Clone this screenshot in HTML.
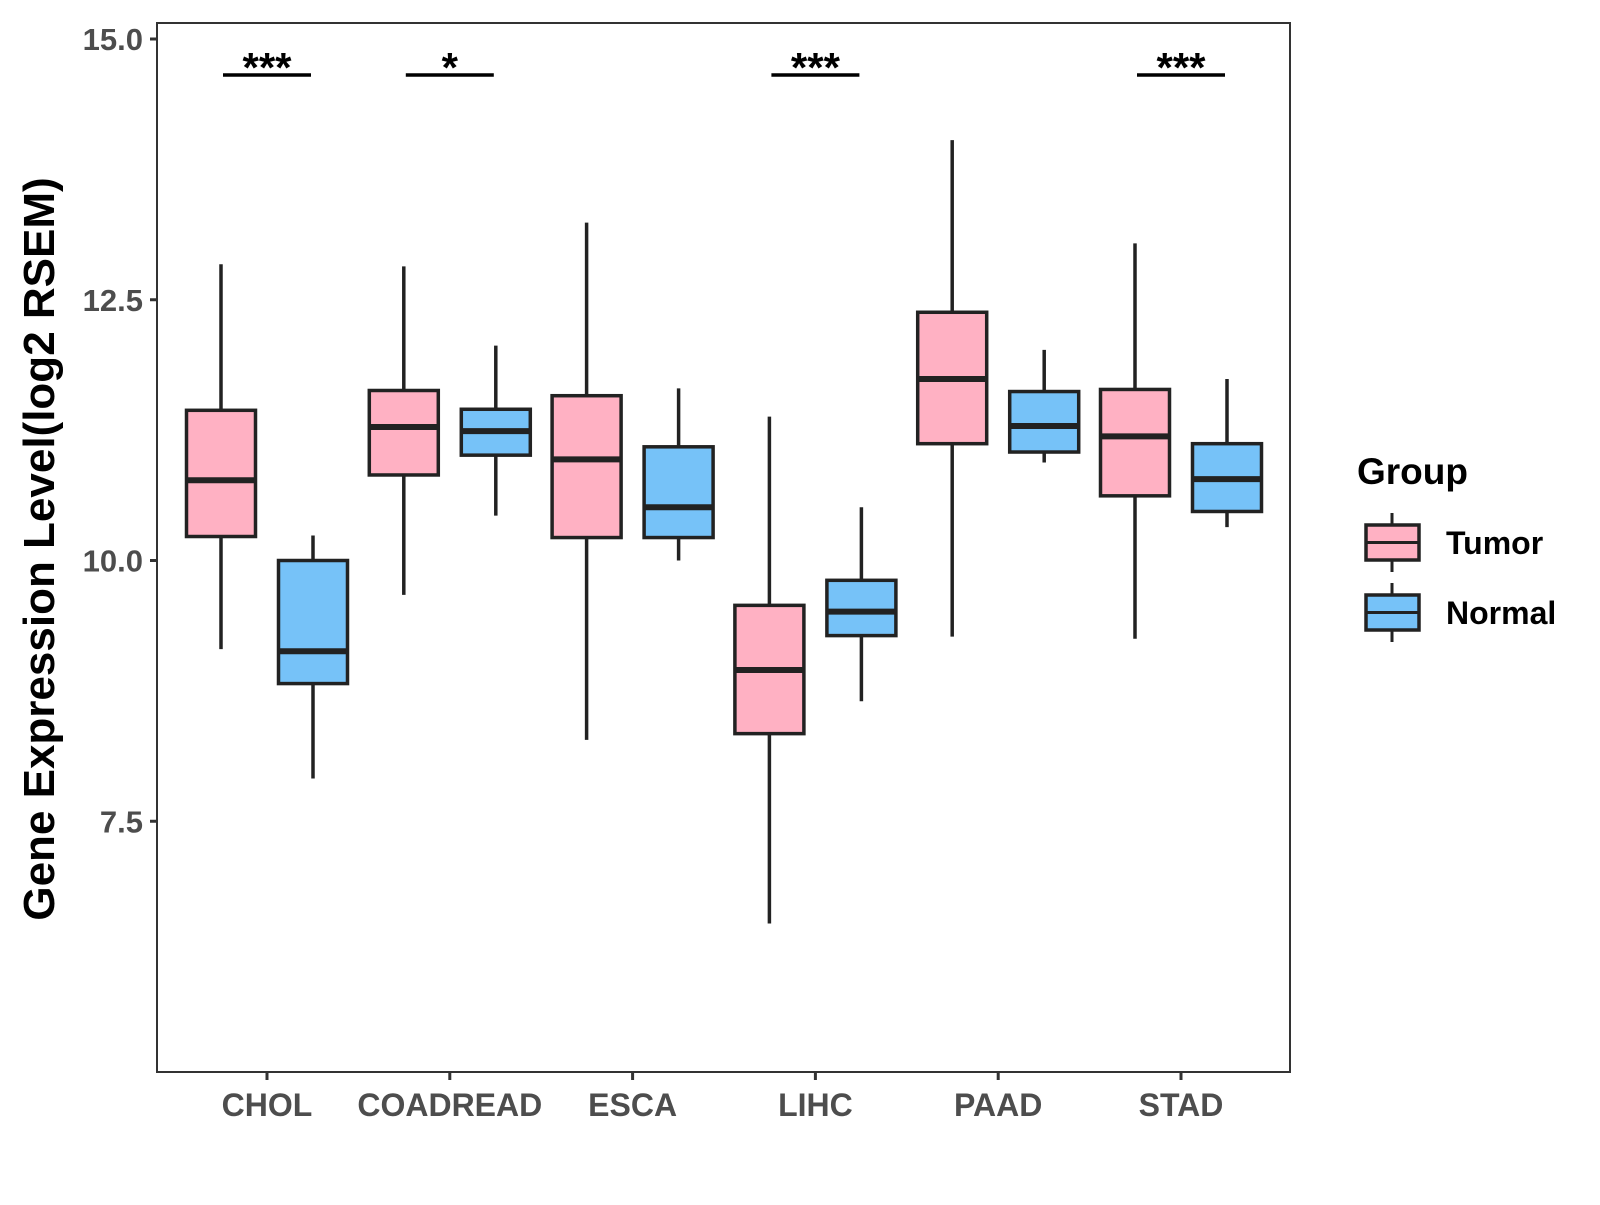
<!DOCTYPE html>
<html><head><meta charset="utf-8"><style>
html,body{margin:0;padding:0;background:#fff}
svg text{font-family:"Liberation Sans",Arial,sans-serif;font-weight:bold}
</style></head><body>
<svg id="chart" width="1600" height="1200" viewBox="0 0 1600 1200" xmlns="http://www.w3.org/2000/svg">
<rect x="157" y="23" width="1133" height="1049" fill="#fff" stroke="#333" stroke-width="2"/>
<g id="ax"></g><g id="marks"></g>
<text transform="translate(54,549) rotate(-90)" text-anchor="middle" font-size="44" fill="#000">Gene Expression Level(log2 RSEM)</text>
<g>
<text x="1357" y="484" font-size="37" fill="#000">Group</text>
<g id="leg"></g>
</g>
</svg>
<script>
const categories=["CHOL","COADREAD","ESCA","LIHC","PAAD","STAD"];
const tumorMin=[9.15,9.67,8.28,6.52,9.27,9.25];
const tumorQ1=[10.23,10.82,10.22,8.34,11.12,10.62];
const tumorMed=[10.77,11.28,10.97,8.95,11.74,11.19];
const tumorQ3=[11.44,11.63,11.58,9.57,12.38,11.64];
const tumorMax=[12.84,12.82,13.24,11.38,14.03,13.04];
const normalMin=[7.91,10.43,10.0,8.65,10.94,10.32];
const normalQ1=[8.82,11.01,10.22,9.28,11.04,10.47];
const normalMed=[9.13,11.24,10.51,9.51,11.29,10.78];
const normalQ3=[10.0,11.45,11.09,9.81,11.62,11.12];
const normalMax=[10.24,12.06,11.65,10.51,12.02,11.74];
const signif=["***","*","","***","","***"];
const yTicks=[7.5,10.0,12.5,15.0];
const NS="http://www.w3.org/2000/svg";
function y(v){return 39+(15-v)*104.3;}
function x(i){return 267+i*182.8;}
function mk(tag,attrs,parent){const e=document.createElementNS(NS,tag);for(const k in attrs)e.setAttribute(k,attrs[k]);parent.appendChild(e);return e;}
const ax=document.getElementById('ax'),marks=document.getElementById('marks'),leg=document.getElementById('leg');
yTicks.forEach(t=>{
  const l=mk('line',{x1:150,x2:157,y1:y(t),y2:y(t),stroke:'#333','stroke-width':3},ax);
  
  
  const tx=mk('text',{x:143,y:y(t)+11,'text-anchor':'end','font-size':31,fill:'#4d4d4d'},ax);
  tx.textContent=t.toFixed(1);
  
  
});
categories.forEach((c,i)=>{
  const l=mk('line',{x1:x(i),x2:x(i),y1:1072,y2:1080,stroke:'#333','stroke-width':3},ax);
  
  
  const tx=mk('text',{x:x(i),y:1116,'text-anchor':'middle','font-size':32,fill:'#4d4d4d'},ax);
  tx.textContent=c;
  
  
});
function box(cx,mn,q1,md,q3,mx,fill,name){
  const g=mk('g',{},marks);
  
  
  mk('line',{x1:cx,x2:cx,y1:y(mx),y2:y(mn),stroke:'#222','stroke-width':3.5},g);
  mk('rect',{x:cx-34.5,y:y(q3),width:69,height:y(q1)-y(q3),fill:fill,stroke:'#222','stroke-width':3.5},g);
  mk('line',{x1:cx-34.5,x2:cx+34.5,y1:y(md),y2:y(md),stroke:'#222','stroke-width':6},g);
}
categories.forEach((c,i)=>{
  box(x(i)-46,tumorMin[i],tumorQ1[i],tumorMed[i],tumorQ3[i],tumorMax[i],'#FFB1C3','box-tumor-'+c.toLowerCase());
  box(x(i)+46,normalMin[i],normalQ1[i],normalMed[i],normalQ3[i],normalMax[i],'#76C2F8','box-normal-'+c.toLowerCase());
  if(signif[i]){
    const l=mk('line',{x1:x(i)-44,x2:x(i)+44,y1:75,y2:75,stroke:'#000','stroke-width':3.5},marks);
    
    
    const t=mk('text',{x:x(i),y:82,'text-anchor':'middle','font-size':42,fill:'#000'},marks);
    t.textContent=signif[i];
    
    
  }
});
[["Tumor","#FFB1C3",525],["Normal","#76C2F8",595]].forEach(([n,f,top])=>{
  const g=mk('g',{},leg);
  
  
  mk('line',{x1:1392,x2:1392,y1:top-12,y2:top+47,stroke:'#222','stroke-width':3},g);
  mk('rect',{x:1366,y:top,width:53,height:35,fill:f,stroke:'#222','stroke-width':3.5},g);
  mk('line',{x1:1366,x2:1419,y1:top+17.5,y2:top+17.5,stroke:'#222','stroke-width':3},g);
  const t=mk('text',{x:1446,y:top+29,'font-size':32,fill:'#000'},g);
  t.textContent=n;
});
</script>
</body></html>
